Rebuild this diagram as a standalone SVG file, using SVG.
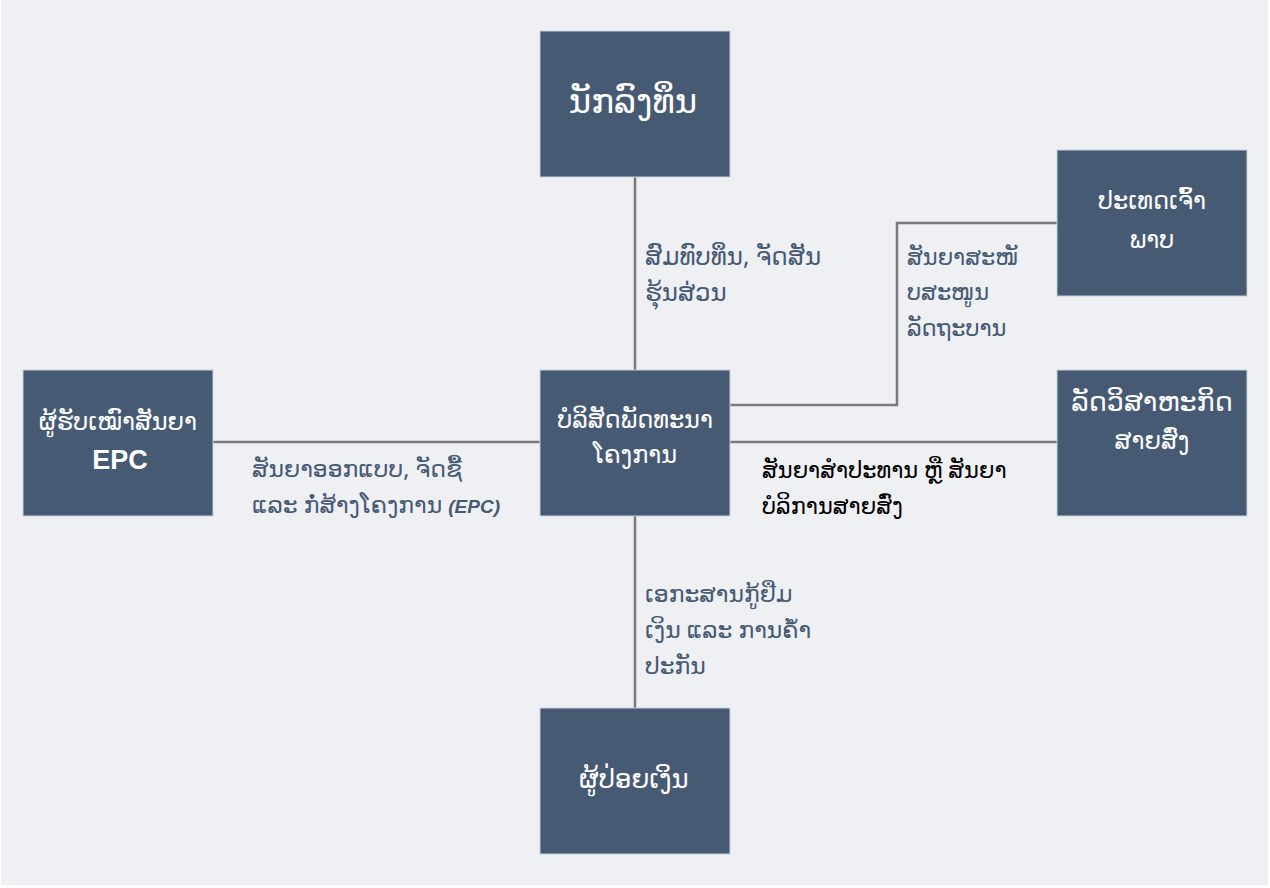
<svg xmlns="http://www.w3.org/2000/svg" width="1270" height="888" viewBox="0 0 1270 888">
<style>
.bg{fill:#eff0f4}
.node{fill:#475a73;stroke:#c9d0da;stroke-width:1}
.nt{font-family:"Noto Sans","DejaVu Sans",sans-serif;font-size:24px;fill:#ffffff;text-anchor:middle}
.el{font-family:"Noto Sans","DejaVu Sans",sans-serif;font-size:23.5px;fill:#475a73}
.elb{font-family:"Noto Sans","DejaVu Sans",sans-serif;font-size:22.5px;fill:#000000}
.conn{fill:none;stroke:#7a7a7a;stroke-width:2.5}
</style>
<rect class="bg" x="1" y="0" width="1267" height="885"/>
<g id="connectors">
<line class="conn" x1="635" y1="177" x2="635" y2="370"/>
<line class="conn" x1="635" y1="516" x2="635" y2="708"/>
<line class="conn" x1="213" y1="442" x2="540" y2="442"/>
<line class="conn" x1="730" y1="442" x2="1057" y2="442"/>
<polyline class="conn" points="730,405 897,405 897,223 1057,223"/>
</g>
<g id="labels">
<text class="el" x="645" y="265" style="font-size:24.5px">ສົມທົບທຶນ, ຈັດສັນ</text>
<text class="el" x="645" y="301" style="font-size:24.5px">ຮຸ້ນສ່ວນ</text>
<text class="el" x="907" y="265" style="font-size:22.5px">ສັນຍາສະໜັ</text>
<text class="el" x="907" y="300" style="font-size:22.5px">ບສະໜູນ</text>
<text class="el" x="907" y="336" style="font-size:22.5px">ລັດຖະບານ</text>
<text class="el" x="252" y="477">ສັນຍາອອກແບບ, ຈັດຊື້</text>
<text class="el" x="252" y="513">ແລະ ກໍ່ສ້າງໂຄງການ <tspan style="font-weight:bold;font-style:italic;font-size:19px;font-family:'Liberation Sans',sans-serif">(EPC)</tspan></text>
<text class="elb" x="762" y="478">ສັນຍາສຳປະທານ ຫຼື ສັນຍາ</text>
<text class="elb" x="762" y="514">ບໍລິການສາຍສົ່ງ</text>
<text class="el" x="645" y="602">ເອກະສານກູ້ຢືມ</text>
<text class="el" x="645" y="638">ເງິນ ແລະ ການຄ້ຳ</text>
<text class="el" x="645" y="674">ປະກັນ</text>
</g>
<g id="investor">
<rect class="node" x="540" y="31" width="190" height="146"/>
<text class="nt" x="633" y="113" style="font-size:34px">ນັກລົງທຶນ</text>
</g>
<g id="host-country">
<rect class="node" x="1057" y="150" width="190" height="146"/>
<text class="nt" x="1152" y="209">ປະເທດເຈົ້າ</text>
<text class="nt" x="1152" y="248">ພາບ</text>
</g>
<g id="epc-contractor">
<rect class="node" x="23" y="370" width="190" height="146"/>
<text class="nt" x="118" y="430">ຜູ້ຮັບເໝົາສັນຍາ</text>
<text class="nt" x="120" y="469" style="font-size:27px;font-weight:bold;font-family:'Liberation Sans',sans-serif">EPC</text>
</g>
<g id="project-company">
<rect class="node" x="540" y="370" width="190" height="146"/>
<text class="nt" x="635" y="428">ບໍລິສັດພັດທະນາ</text>
<text class="nt" x="635" y="463">ໂຄງການ</text>
</g>
<g id="transmission">
<rect class="node" x="1057" y="370" width="190" height="146"/>
<text class="nt" x="1152" y="411" style="font-size:27px">ລັດວິສາຫະກິດ</text>
<text class="nt" x="1152" y="449">ສາຍສົ່ງ</text>
</g>
<g id="lenders">
<rect class="node" x="540" y="708" width="190" height="146"/>
<text class="nt" x="634" y="788" style="font-size:26px">ຜູ້ປ່ອຍເງິນ</text>
</g>
</svg>
